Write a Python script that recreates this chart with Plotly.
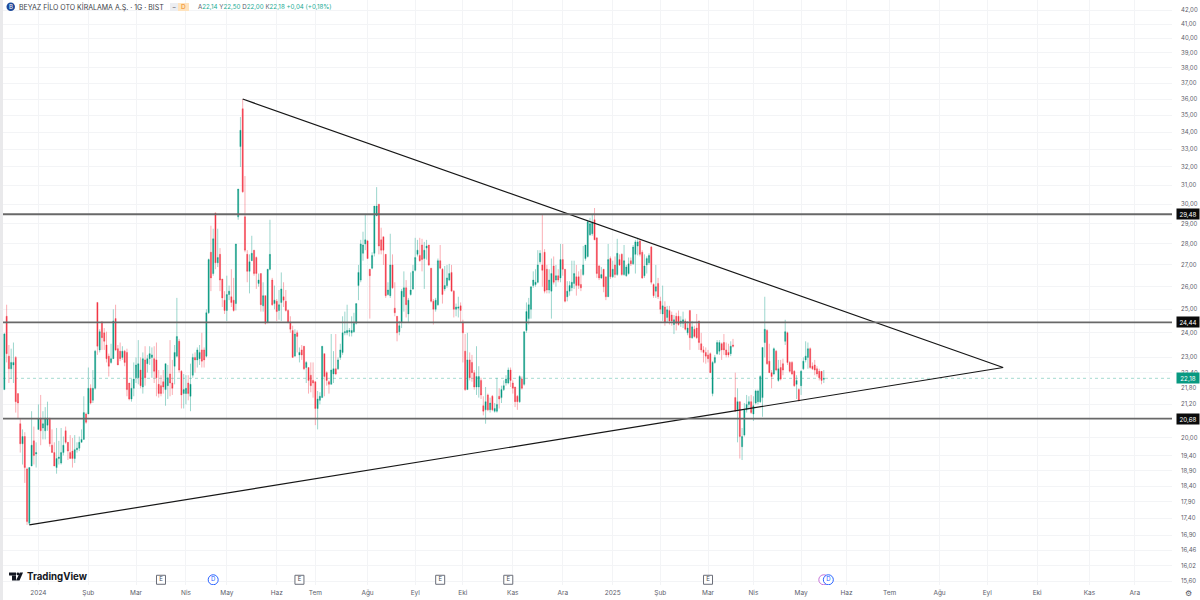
import math
import plotly.graph_objects as go

# daily candles
opens = [
    21.75, 24.7, 23.05, 22.55, 22.7, 23.0, 21.6, 20.5, 19.8, 20.05,
    18.95, 17.25, 19.05, 19.9, 19.45, 20.3, 20.7, 20.35, 20.25, 20.45,
    20.7, 19.75, 19.5, 19.0, 19.3, 19.15, 19.5, 20.25, 19.85, 19.5,
    19.55, 19.3, 19.6, 19.65, 19.85, 19.95, 20.85, 20.85, 21.8, 21.35,
    21.8, 25.3, 23.3, 24.45, 24.0, 23.5, 23.05, 22.8, 22.95, 24.6,
    23.35, 23.25, 23.0, 23.25, 23.2, 22.0, 21.4, 21.8, 22.2, 22.2,
    22.5, 21.85, 22.9, 22.75, 22.95, 23.0, 22.95, 22.9, 21.95, 21.9,
    22.05, 21.75, 21.9, 22.35, 22.0, 22.65, 23.05, 23.65, 22.45, 21.6,
    21.6, 22.0, 21.5, 22.3, 23.0, 22.9, 22.95,
    23.3, 23.3, 23.05, 24.85, 27.6, 26.6, 29.55, 27.1, 27.5, 26.35,
    25.4, 24.95, 25.65, 25.55, 25.4, 25.25, 29.35, 33.15, 35.4, 29.35,
    27.5, 26.7, 27.2, 27.7, 27.35, 26.15, 26.6, 25.15, 25.6, 24.45,
    26.8, 26.3, 25.25, 25.35, 24.95, 25.3, 25.55, 25.35, 24.95, 24.45,
    24.1, 23.05, 24.0, 23.1, 23.3, 23.45, 22.6, 22.6, 22.3, 22.1,
    22.05, 21.05, 21.35, 21.45, 23.15, 22.4, 22.05, 21.95, 22.35, 22.55,
    22.55, 23.0, 23.2, 24.0, 24.0, 24.05, 24.0, 24.05, 24.4, 26.05,
    26.3, 27.55, 28.0, 28.15, 26.8, 26.85, 27.55, 29.4, 30.0, 28.2,
    28.35, 27.5, 25.65, 25.6, 27.0, 25.05, 24.7, 24.05,
    24.45, 25.55, 25.95, 24.8, 25.65, 25.9, 26.75, 27.5, 27.45, 27.95,
    27.3, 27.8, 27.95, 26.85, 25.35, 25.0, 25.2, 27.2, 26.8, 25.9,
    26.05, 26.3, 26.65, 25.8, 25.0, 25.05, 25.15, 24.45, 23.25, 21.75,
    22.9, 22.8, 22.4, 21.85, 21.85, 22.1, 21.15, 21.0, 21.55, 21.0,
    21.5, 20.95, 20.95, 21.5, 21.45, 21.75, 22.0, 22.0, 22.5, 22.0,
    21.85, 21.5, 21.3, 22.15, 21.95, 24.1, 24.6, 25.0, 26.05, 26.1,
    26.2, 27.15, 27.0, 27.6, 26.8, 25.85, 25.8, 26.95, 26.3, 26.5,
    26.4, 27.25, 26.8, 25.55, 25.8, 25.95, 26.15, 26.45, 26.45, 26.1,
    26.55, 27.3, 27.4, 28.45, 28.5, 29.2, 28.3,
    26.95, 26.4, 26.8, 26.45, 25.55, 27.3, 26.45, 27.0, 26.55, 27.25,
    27.5, 26.55, 26.5, 26.6, 27.2, 27.05, 27.5, 27.9, 28.15, 27.6,
    26.5, 27.0, 27.1, 27.85, 26.1, 25.8, 26.15, 25.35, 24.8, 25.1,
    24.65, 24.95, 24.75, 24.35, 24.7, 24.7, 24.4, 24.4, 24.5, 24.0, 24.95,
    23.8, 24.15, 24.2, 24.5, 23.55, 23.3, 23.2, 23.1, 23.15, 21.6,
    22.8, 23.15, 23.25, 23.55, 23.6, 23.3, 23.2, 23.15, 23.5, 21.45,
    21.0, 21.3, 19.7, 20.1, 21.0, 21.2, 21.3, 20.85, 21.25, 21.3, 21.3,
    21.45, 23.6, 24.1, 22.85, 22.4, 22.35, 23.25, 22.1, 22.6, 22.75,
    23.65, 24.0, 22.8, 22.8, 22.45, 21.95, 21.75, 21.9, 22.55, 22.9,
    23.0, 23.35, 22.65, 22.7, 22.55, 22.45, 22.45, 22.14,
]
highs = [
    24.0, 25.2, 23.5, 23.35, 23.6, 23.05, 21.6, 20.68, 20.3, 20.2,
    19.0, 19.0, 20.95, 20.4, 19.85, 21.2, 21.55, 20.95, 21.1, 21.3,
    20.7, 20.3, 19.85, 20.35, 19.9, 20.35, 20.05, 20.4, 19.85, 20.1,
    20.0, 20.1, 19.85, 20.05, 20.3, 21.5, 20.9, 22.6, 21.95, 22.5,
    23.3, 25.3, 24.15, 24.5, 24.2, 24.05, 23.15, 23.55, 25.0, 25.2,
    23.5, 23.6, 23.45, 23.3, 23.35, 22.0, 22.15, 22.8, 23.0, 23.7,
    23.0, 23.2, 23.45, 23.1, 23.45, 23.4, 23.45, 23.6, 22.5, 22.3,
    22.5, 22.75, 22.7, 23.7, 22.9, 23.5, 25.5, 23.75, 22.5, 22.35,
    22.3, 22.3, 22.75, 23.15, 23.2, 23.4, 23.5,
    24.0, 23.4, 25.0, 27.3, 28.9, 28.75, 29.55, 28.75, 27.8, 26.35,
    25.8, 26.5, 26.05, 26.8, 26.4, 28.0, 30.8, 34.9, 36.0, 31.5,
    27.7, 27.5, 28.4, 27.7, 27.4, 26.6, 26.6, 26.2, 25.6, 26.8,
    29.2, 26.4, 26.05, 25.45, 25.85, 26.65, 26.2, 25.85, 25.0, 24.7,
    24.3, 24.15, 24.1, 23.4, 23.5, 23.45, 22.85, 22.6, 22.8, 22.8,
    22.05, 21.7, 21.65, 23.45, 23.15, 22.45, 22.1, 23.95, 23.25, 23.95,
    23.0, 23.55, 24.7, 24.9, 25.2, 24.2, 24.7, 24.85, 25.25, 27.0,
    28.2, 28.6, 29.5, 28.2, 26.8, 27.6, 29.9, 30.9, 30.0, 28.8,
    28.35, 27.5, 26.2, 28.5, 27.5, 26.2, 24.7, 24.5,
    25.9, 26.7, 26.3, 25.5, 26.65, 27.0, 28.3, 28.2, 28.3, 28.25,
    28.1, 28.2, 27.95, 26.85, 25.45, 25.5, 27.3, 27.95, 26.85, 26.95,
    27.0, 27.05, 27.0, 25.85, 25.25, 25.55, 25.3, 24.55, 23.95, 24.0,
    23.2, 23.1, 22.5, 23.45, 22.65, 22.2, 21.5, 21.85, 21.6, 21.45,
    21.55, 21.25, 22.2, 21.8, 21.9, 22.1, 22.3, 22.6, 22.6, 22.1,
    21.85, 21.55, 22.3, 22.25, 24.05, 25.3, 25.5, 26.0, 26.7, 26.8,
    27.7, 27.7, 29.48, 27.75, 27.0, 26.8, 27.3, 27.4, 27.0, 26.8,
    28.0, 28.0, 26.8, 26.25, 26.25, 27.2, 27.2, 27.0, 26.7, 26.8,
    27.9, 27.95, 29.15, 29.3, 29.45, 29.8, 28.3,
    27.0, 26.9, 26.8, 26.45, 28.0, 27.4, 27.2, 27.4, 28.25, 27.5,
    27.55, 27.95, 27.0, 27.35, 27.35, 27.95, 28.2, 28.3, 28.25, 27.7,
    27.5, 27.4, 27.55, 27.9, 26.15, 27.0, 26.4, 25.55, 26.05, 25.35,
    25.15, 25.15, 24.9, 24.75, 24.85, 24.95, 24.7, 24.9, 24.6, 24.5, 24.95,
    24.5, 24.3, 24.8, 24.5, 24.0, 23.45, 23.4, 23.3, 23.2, 22.85,
    23.1, 23.7, 23.7, 23.6, 23.95, 23.6, 23.55, 23.65, 23.75, 22.4,
    21.8, 21.3, 20.35, 21.25, 21.55, 21.5, 21.55, 21.5, 21.75, 21.75, 22.3,
    23.4, 25.55, 24.15, 23.55, 22.5, 23.4, 23.3, 22.9, 22.9, 22.95,
    24.55, 24.05, 22.85, 22.85, 22.5, 22.3, 21.8, 22.5, 23.0, 23.65,
    23.6, 23.4, 22.8, 22.9, 22.65, 22.55, 22.45, 22.5,
]
lows = [
    21.75, 22.8, 22.0, 22.15, 22.0, 20.9, 20.7, 19.5, 19.1, 18.5,
    17.2, 17.2, 19.05, 19.1, 19.0, 20.3, 19.75, 19.95, 19.95, 20.25,
    19.7, 19.5, 19.05, 18.8, 19.1, 19.1, 19.4, 19.8, 19.25, 19.3,
    19.0, 19.15, 19.5, 19.55, 19.85, 19.95, 20.5, 20.85, 21.2, 21.25,
    21.75, 23.1, 23.2, 23.3, 23.3, 22.8, 22.25, 22.75, 22.95, 23.25,
    22.7, 22.85, 22.9, 22.65, 21.5, 21.35, 21.3, 21.5, 22.0, 21.95,
    21.8, 21.6, 21.9, 22.4, 22.7, 22.2, 22.0, 21.5, 21.45, 21.5,
    21.6, 21.15, 21.4, 21.5, 21.55, 21.95, 23.0, 22.4, 21.05, 21.05,
    21.2, 21.35, 20.95, 22.2, 22.4, 22.6, 22.7,
    22.6, 22.6, 23.0, 24.8, 25.8, 26.5, 26.8, 26.9, 25.8, 25.1,
    24.8, 24.5, 25.4, 25.1, 24.9, 24.95, 29.2, 32.0, 30.6, 27.6,
    26.2, 25.7, 27.2, 26.5, 25.9, 26.0, 24.9, 24.9, 24.35, 24.4,
    26.75, 25.15, 25.0, 24.5, 24.55, 24.5, 25.1, 24.9, 24.4, 24.0,
    23.0, 23.05, 23.2, 22.8, 22.9, 22.5, 22.0, 21.6, 21.65, 21.45,
    20.45, 20.3, 21.2, 21.45, 21.5, 21.9, 21.6, 21.95, 22.0, 22.3,
    22.5, 22.9, 23.1, 23.9, 23.9, 23.85, 23.85, 24.0, 24.35, 25.4,
    26.2, 27.2, 27.7, 27.3, 24.6, 26.8, 27.4, 29.4, 27.5, 27.5,
    27.0, 25.5, 25.6, 25.5, 25.9, 24.7, 23.65, 23.9,
    24.2, 24.9, 24.65, 24.45, 25.6, 25.85, 26.7, 27.4, 27.15, 26.7,
    25.9, 27.25, 26.95, 25.3, 24.35, 24.9, 25.15, 26.8, 25.25, 25.8,
    25.95, 26.25, 25.8, 24.65, 24.7, 24.65, 24.45, 22.8, 21.7, 21.75,
    22.1, 22.05, 21.75, 21.55, 21.45, 21.4, 20.8, 20.5, 20.95, 20.9,
    20.95, 20.9, 20.9, 21.05, 21.25, 21.7, 21.9, 21.95, 21.85, 21.6,
    21.1, 21.0, 21.25, 21.75, 21.9, 24.0, 24.35, 24.6, 25.95, 26.0,
    26.15, 27.05, 26.0, 25.7, 25.7, 25.7, 24.6, 26.1, 26.0, 26.2,
    26.2, 26.5, 25.3, 25.35, 25.6, 25.8, 25.9, 25.6, 25.9, 25.8,
    26.5, 27.2, 27.35, 28.4, 28.4, 28.2, 26.4,
    26.3, 26.35, 25.75, 25.4, 25.55, 26.35, 26.4, 26.4, 26.5, 26.95,
    26.5, 26.5, 26.45, 26.55, 26.95, 27.0, 26.6, 27.45, 27.4, 26.35,
    26.4, 26.6, 27.0, 26.1, 25.5, 25.5, 25.45, 24.8, 24.5, 24.3,
    24.45, 24.35, 24.3, 23.95, 24.1, 24.3, 24.25, 24.2, 24.1, 23.9, 23.3,
    23.75, 23.8, 23.75, 23.3, 23.2, 22.8, 22.75, 22.8, 22.4, 21.5,
    22.75, 23.1, 23.1, 22.9, 23.1, 23.0, 23.0, 23.05, 23.4, 20.95,
    19.85, 19.3, 19.25, 20.05, 20.9, 21.0, 20.85, 20.6, 21.2, 21.2, 21.25,
    20.75, 23.0, 22.7, 22.4, 21.8, 22.3, 22.45, 22.05, 22.1, 22.3,
    23.5, 22.7, 22.4, 22.3, 21.85, 21.4, 21.3, 21.55, 22.5, 22.8,
    22.55, 22.55, 22.5, 22.3, 22.25, 22.1, 21.95, 22.0,
]
closes = [
    23.95, 23.15, 22.55, 22.8, 22.8, 21.3, 21.25, 19.8, 20.05, 19.0,
    17.3, 19.0, 19.75, 19.4, 19.5, 20.68, 20.25, 20.5, 20.7, 20.7,
    19.8, 19.5, 19.05, 19.3, 19.35, 19.5, 19.75, 19.85, 19.55, 19.3,
    19.3, 19.6, 19.65, 19.85, 19.95, 20.9, 20.55, 21.8, 21.25, 21.8,
    23.25, 23.45, 24.05, 23.8, 23.65, 22.95, 22.65, 22.95, 24.5, 23.3,
    22.7, 22.95, 23.25, 22.8, 21.75, 21.4, 21.8, 22.15, 22.7, 22.75,
    21.9, 22.95, 22.2, 22.95, 23.15, 23.1, 22.45, 22.2, 21.6, 21.6,
    21.85, 22.75, 22.2, 22.0, 21.8, 23.2, 23.85, 22.5, 21.55, 21.75,
    21.8, 21.6, 21.95, 23.0, 22.9, 23.3, 23.2,
    22.85, 22.9, 24.85, 27.25, 26.4, 28.25, 27.1, 27.35, 26.3, 25.5,
    24.95, 25.65, 25.8, 25.3, 24.95, 28.0, 30.8, 34.1, 30.65, 27.7,
    26.7, 27.15, 27.55, 26.6, 26.6, 26.3, 25.2, 25.6, 24.4, 26.8,
    27.5, 25.2, 25.4, 24.9, 25.2, 25.9, 25.4, 24.95, 24.45, 24.15,
    23.0, 23.95, 23.85, 23.2, 23.1, 22.55, 22.8, 22.1, 21.9, 22.0,
    21.05, 21.4, 21.5, 23.45, 22.25, 22.1, 21.95, 22.5, 22.55, 22.35,
    22.9, 23.3, 24.0, 24.05, 24.1, 24.1, 24.1, 24.4, 25.25, 26.65,
    28.0, 27.95, 28.2, 27.3, 26.5, 27.45, 29.9, 29.9, 27.9, 27.7,
    27.7, 25.6, 25.85, 27.0, 25.95, 24.85, 24.0, 24.3,
    25.8, 25.95, 25.2, 25.4, 25.85, 26.7, 27.35, 27.7, 27.2, 27.25,
    27.7, 27.9, 27.0, 25.35, 25.0, 25.4, 27.2, 26.85, 25.65, 26.05,
    26.4, 26.6, 25.8, 25.0, 25.1, 25.1, 24.95, 24.0, 21.75, 22.9,
    22.2, 22.4, 21.85, 22.25, 22.25, 21.55, 20.95, 21.3, 21.0, 21.25,
    21.0, 21.05, 21.2, 21.4, 21.75, 21.9, 22.15, 22.5, 22.1, 21.8,
    21.3, 21.3, 22.25, 21.8, 24.05, 24.9, 25.2, 26.0, 26.3, 26.2,
    27.0, 27.55, 26.75, 25.8, 25.85, 26.3, 26.6, 26.2, 26.5, 26.3,
    27.25, 26.8, 25.35, 25.8, 26.05, 26.2, 26.6, 26.05, 26.05, 25.95,
    27.0, 27.95, 29.1, 29.0, 29.05, 28.2, 26.6,
    26.4, 26.55, 26.0, 25.55, 27.25, 26.45, 26.8, 26.55, 27.55, 27.0,
    26.55, 27.2, 26.9, 27.05, 27.05, 27.85, 28.1, 28.1, 27.5, 26.4,
    26.95, 27.3, 27.45, 26.2, 25.6, 26.0, 25.55, 25.0, 25.15, 24.45,
    24.98, 24.5, 24.5, 24.55, 24.4, 24.35, 24.5, 24.55, 24.15, 24.2, 23.8,
    24.25, 23.85, 23.8, 23.6, 23.3, 23.2, 23.05, 22.95, 22.4, 22.8,
    23.0, 23.6, 23.6, 23.3, 23.3, 23.1, 23.1, 23.45, 23.45, 20.95,
    21.3, 20.05, 20.05, 21.0, 21.2, 21.3, 20.9, 21.15, 21.7, 21.7, 22.25,
    23.4, 24.15, 22.75, 22.4, 22.25, 23.35, 22.5, 22.55, 22.15, 22.5,
    24.05, 22.8, 22.45, 22.35, 21.9, 22.1, 21.35, 22.45, 22.85, 23.05,
    23.35, 22.6, 22.55, 22.5, 22.35, 22.2, 22.1, 22.18,
]

# bar numbers where each month begins on the time axis
month_bars = [15, 37, 58, 80, 98, 120, 137, 160, 181, 202, 224, 246,
              268, 289, 310, 330, 351, 371, 390, 412, 433, 455, 478, 498]
month_labels = ["2024", "Şub", "Mar", "Nis", "May", "Haz", "Tem", "Ağu", "Eyl", "Eki", "Kas", "Ara",
                "2025", "Şub", "Mar", "Nis", "May", "Haz", "Tem", "Ağu", "Eyl", "Eki", "Kas", "Ara"]

price_ticks = [42, 41, 40, 39, 38, 37, 36, 35, 34, 33, 32, 31, 30, 29, 28, 27, 26, 25, 24, 23,
               22.4, 21.8, 21.2, 20, 19.4, 18.9, 18.4, 17.9, 17.4, 16.9, 16.46, 16.02, 15.6]
price_labels = [f"{p:.2f}".replace(".", ",") for p in price_ticks]

levels = [29.48, 24.44, 20.68]
last_price = 22.18

# drawn trend lines: bar number / price
tri_bars = [105, 440, 11]
tri_prices = [36.0, 22.6, 17.2]

earnings_bars = [69, 130, 192, 222, 310]
dividend_bars = [92, 363]
split_bars = [361]
marker_price = 15.64

UP = "#089981"
DOWN = "#F23645"
GRID = "#f3f4f6"
TEXT = "#5d606b"
FONT = "Inter"


# pixel helpers for the furniture around the chart
def px_x(v):
    return (v - 3) / 1169


def px_y(v):
    return 1 - v / 585


assert len(opens) == len(highs) == len(lows) == len(closes)
bars = list(range(len(opens)))

fig = go.Figure()

for lvl in levels:
    fig.add_hline(y=lvl, line=dict(color="#686868", width=1.8), layer="above")
fig.add_hline(y=last_price, line=dict(color="#7fcbbd", width=0.7, dash="dot"), layer="below")

fig.add_trace(go.Candlestick(
    x=bars, open=opens, high=highs, low=lows, close=closes,
    increasing=dict(line=dict(color="rgba(8,153,129,0.5)", width=0.8), fillcolor=UP),
    decreasing=dict(line=dict(color="rgba(242,54,69,0.5)", width=0.8), fillcolor=DOWN),
    whiskerwidth=0, hoverinfo="skip",
))

fig.add_trace(go.Scatter(
    x=tri_bars, y=tri_prices, mode="lines",
    line=dict(color="#161616", width=1.2), hoverinfo="skip",
))

# event markers along the bottom
fig.add_trace(go.Scatter(
    x=earnings_bars, y=[marker_price] * len(earnings_bars), mode="markers+text",
    marker=dict(symbol="square", size=9, color="white", line=dict(color="#6a6d78", width=1)),
    text=["E"] * len(earnings_bars), textposition="middle center",
    textfont=dict(size=6, color="#4a4d57", family=FONT), hoverinfo="skip",
))
fig.add_trace(go.Scatter(
    x=split_bars, y=[marker_price], mode="markers",
    marker=dict(symbol="circle", size=10, color="white", line=dict(color="#c774d8", width=1)),
    hoverinfo="skip",
))
fig.add_trace(go.Scatter(
    x=dividend_bars, y=[marker_price] * len(dividend_bars), mode="markers+text",
    marker=dict(symbol="circle", size=10, color="white", line=dict(color="#2962ff", width=1)),
    text=["D"] * len(dividend_bars), textposition="middle center",
    textfont=dict(size=6, color="#2962ff", family=FONT), hoverinfo="skip",
))

shapes = [
    dict(type="rect", xref="paper", yref="paper", x0=px_x(0), x1=px_x(3), y0=px_y(0), y1=px_y(600),
         fillcolor="#e9e9eb", line=dict(width=0)),
    dict(type="circle", xref="paper", yref="paper", x0=px_x(6.5), x1=px_x(15), y0=px_y(2.5), y1=px_y(11),
         fillcolor="#1d4a9c", line=dict(width=0)),
    dict(type="rect", xref="paper", yref="paper", x0=px_x(170), x1=px_x(178), y0=px_y(3), y1=px_y(11),
         fillcolor="#eceef2", line=dict(width=0)),
    dict(type="rect", xref="paper", yref="paper", x0=px_x(178), x1=px_x(189), y0=px_y(3), y1=px_y(11),
         fillcolor="#ffe3bd", line=dict(width=0)),
    # TradingView mark
    dict(type="rect", xref="paper", yref="paper", x0=px_x(9), x1=px_x(16), y0=px_y(572.5), y1=px_y(575.5),
         fillcolor="#131722", line=dict(width=0)),
    dict(type="rect", xref="paper", yref="paper", x0=px_x(12), x1=px_x(16), y0=px_y(575.5), y1=px_y(580.5),
         fillcolor="#131722", line=dict(width=0)),
    dict(type="circle", xref="paper", yref="paper", x0=px_x(16.5), x1=px_x(19.3), y0=px_y(572.5), y1=px_y(575.3),
         fillcolor="#131722", line=dict(width=0)),
    dict(type="path", xref="paper", yref="paper",
         path=f"M {px_x(19.8)} {px_y(572.5)} L {px_x(23)} {px_y(572.5)} L {px_x(19.5)} {px_y(580.5)} "
              f"L {px_x(16)} {px_y(580.5)} Z",
         fillcolor="#131722", line=dict(width=0)),
]

green = "#22ab94"
header = (
    f"<span style='color:#5d606b'>A</span>22,14 <span style='color:#5d606b'>Y</span>22,50 "
    f"<span style='color:#5d606b'>D</span>22,00 <span style='color:#5d606b'>K</span>22,18 +0,04 (+0,18%)"
)


def label(x, y, text, size, color, anchor="left", **kw):
    return dict(xref="paper", yref="paper", x=px_x(x), y=px_y(y), text=text, showarrow=False,
                xanchor=anchor, yanchor="middle", font=dict(size=size, color=color, family=FONT), **kw)


annotations = [
    label(10.7, 7, "B", 6, "white", "center"),
    label(16.5, 7, "BEYAZ FİLO OTO KİRALAMA A.Ş. · 1G · BIST", 7, "#3b3e47"),
    label(174, 7, "−", 6.5, "#5d606b", "center"),
    label(183.5, 7, "D", 6.5, "#f08a1d", "center"),
    label(196, 7, header, 6.2, green),
    label(24.5, 576.5, "<b>TradingView</b>", 9.7, "#131722"),
    label(1188.5, 593, "⚙", 8, "#50535e", "center"),
]
for lvl in levels:
    a = label(1188, 0, f"{lvl:.2f}".replace(".", ","), 6.2, "white", "center",
              bgcolor="#0b0b0b", width=20, height=8)
    a.update(yref="y", y=math.log10(lvl))
    annotations.append(a)
a = label(1188, 0, f"{last_price:.2f}".replace(".", ","), 6.2, "white", "center",
          bgcolor=UP, width=20, height=8)
a.update(yref="y", y=math.log10(last_price))
annotations.append(a)

fig.update_layout(
    width=1200, height=600,
    margin=dict(l=3, r=28, t=0, b=15),
    paper_bgcolor="white", plot_bgcolor="white",
    showlegend=False, boxgap=0.3,
    shapes=list(fig.layout.shapes) + shapes,
    annotations=annotations,
    xaxis=dict(
        range=[-0.6, 514.4], tickmode="array", tickvals=month_bars, ticktext=month_labels,
        showgrid=True, gridcolor=GRID, gridwidth=1, zeroline=False, showline=False,
        ticks="", rangeslider=dict(visible=False),
        tickfont=dict(size=6.5, color=TEXT, family=FONT), ticklabelstandoff=2,
    ),
    yaxis=dict(
        type="log", side="right", range=[1.1903, 1.6309],
        tickmode="array", tickvals=price_ticks, ticktext=price_labels,
        showgrid=True, gridcolor=GRID, gridwidth=1, zeroline=False, showline=False,
        ticks="", tickfont=dict(size=6, color=TEXT, family=FONT), ticklabelstandoff=8,
    ),
)

# the page's default body margin would push the chart off the window
fig.write_html("out.html", post_script="document.body.style.margin='0';",
               config=dict(displayModeBar=False))
